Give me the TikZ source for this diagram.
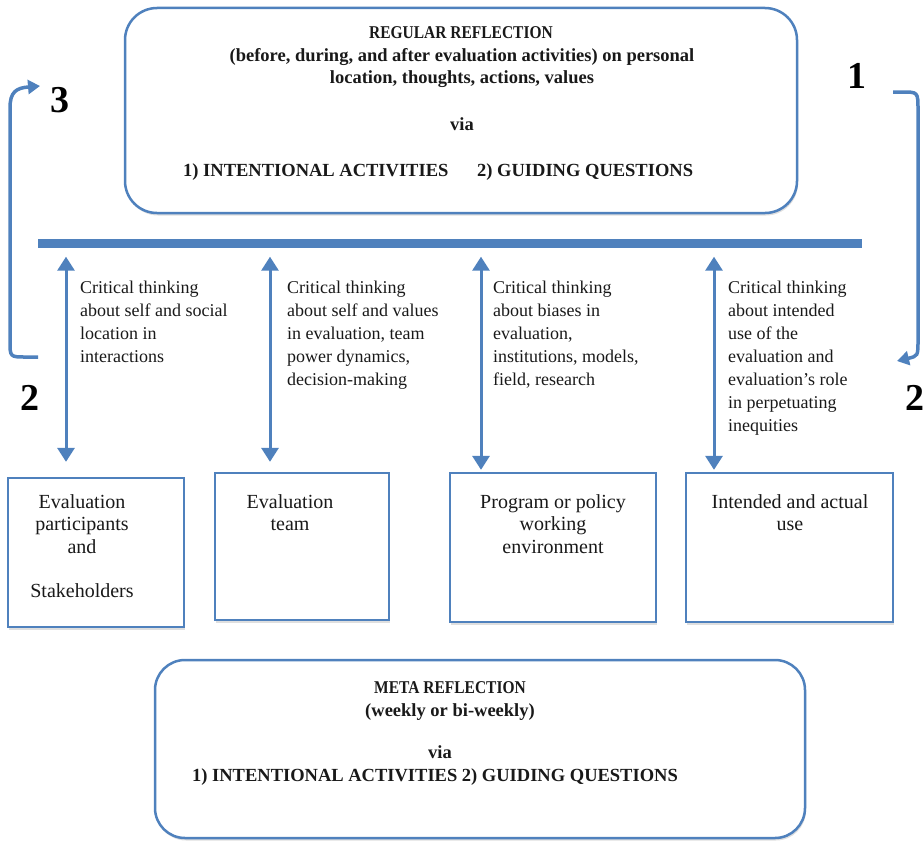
\documentclass[tikz,border=0pt]{standalone}
\usepackage{fontspec}
\setmainfont{Liberation Serif}
\newfontfamily\condserif[FakeStretch=0.86]{Liberation Serif}
\usetikzlibrary{arrows.meta,shadows}
\definecolor{ablue}{RGB}{79,129,189}
\definecolor{txt}{RGB}{25,25,25}
\begin{document}
\begin{tikzpicture}[x=1pt,y=-1pt,
  rbox/.style={draw=ablue, line width=2.5pt, rounded corners=32pt, fill=white,
    drop shadow={shadow xshift=1pt, shadow yshift=-2.5pt, opacity=0.25}},
  sbox/.style={draw=ablue, line width=2.3pt, fill=white,
    drop shadow={shadow xshift=1pt, shadow yshift=-2.5pt, opacity=0.25}},
  hd/.style={font=\fontsize{18.5}{22}\selectfont\bfseries, text=txt, inner sep=0, anchor=base},
  ttl/.style={hd, font=\condserif\fontsize{18}{22}\selectfont\bfseries},
  ct/.style={font=\fontsize{18}{23}\selectfont, text=txt, align=left, inner sep=0, anchor=north west},
  bt/.style={font=\fontsize{20}{22.5}\selectfont, text=txt, align=center, inner sep=0, anchor=north},
  num/.style={font=\fontsize{38}{38}\selectfont\bfseries, text=black, inner sep=0},
  dbl/.style={ablue, line width=3pt, {Triangle[width=17pt,length=14pt]}-{Triangle[width=17pt,length=14pt]}},
  loopar/.style={ablue, line width=3.5pt, -{Triangle[width=14pt,length=12pt]}}
]
\useasboundingbox (0,0) rectangle (923,843);

% top rounded box
\node[rbox, minimum width=672pt, minimum height=205pt] (reg) at (461,110.5) {};
\node[ttl] (r1) at (461,38) {REGULAR REFLECTION};
\node[hd] (r2) at (462,61) {(before, during, and after evaluation activities) on personal};
\node[hd] (r3) at (462,83) {location, thoughts, actions, values};
\node[hd] (r4) at (462,130) {via};
\node[hd, anchor=base west] (r5) at (183,176) {1) INTENTIONAL ACTIVITIES};
\node[hd, anchor=base west] (r6) at (477,176) {2) GUIDING QUESTIONS};

% bar
\node[fill=ablue, minimum width=824pt, minimum height=9pt, inner sep=0] (bar) at (450,243) {};

% numbers
\node[num] (n3) at (60,100) {3};
\node[num] (n1) at (857,76) {1};
\node[num] (n2l) at (30,398) {2};
\node[num] (n2r) at (915,398) {2};

% loop arrows
\coordinate (l3) at (40,86);
\coordinate (l2) at (38,357);
\draw[loopar] (l2) -- (26,357) .. controls (10,357) .. (10,341) -- (10,108)
  .. controls (10,92) and (16,88) .. (l3);
\coordinate (r1s) at (893,92);
\coordinate (r2e) at (897,361);
\draw[loopar] (r1s) -- (902,92) .. controls (918,92) .. (918,110) -- (918,340)
  .. controls (918,356) .. (r2e);

% lower boxes
\node[sbox, minimum width=176pt, minimum height=149pt] (b1) at (96,552.5) {};
\node[sbox, minimum width=174pt, minimum height=147pt] (b2) at (302,546.5) {};
\node[sbox, minimum width=206pt, minimum height=149pt] (b3) at (553,547.5) {};
\node[sbox, minimum width=207pt, minimum height=149pt] (b4) at (789.5,547.5) {};

\node[bt] (t1) at (82,494) {Evaluation\\participants\\and\\[22pt]Stakeholders};
\node[bt] (t2) at (290,494) {Evaluation\\team};
\node[bt] (t3) at (553,494) {Program or policy\\working\\environment};
\node[bt] (t4) at (790,494) {Intended and actual\\use};

% double arrows
\coordinate (x1) at (66,0);
\coordinate (x2) at (270,0);
\coordinate (x3) at (481,0);
\coordinate (x4) at (714,0);
\draw[dbl, shorten <=9pt, shorten >=15pt] (bar.south -| x1) -- (b1.north -| x1);
\draw[dbl, shorten <=9pt, shorten >=10pt] (bar.south -| x2) -- (b2.north -| x2);
\draw[dbl, shorten <=9pt, shorten >=2pt] (bar.south -| x3) -- (b3.north -| x3);
\draw[dbl, shorten <=9pt, shorten >=2pt] (bar.south -| x4) -- (b4.north -| x4);

% column texts
\node[ct] (c1) at (80,281) {Critical thinking\\about self and social\\location in\\interactions};
\node[ct] (c2) at (287,281) {Critical thinking\\about self and values\\in evaluation, team\\power dynamics,\\decision-making};
\node[ct] (c3) at (493,281) {Critical thinking\\about biases in\\evaluation,\\institutions, models,\\field, research};
\node[ct] (c4) at (728,281) {Critical thinking\\about intended\\use of the\\evaluation and\\evaluation’s role\\in perpetuating\\inequities};

% bottom rounded box
\node[rbox, minimum width=650pt, minimum height=178pt, rounded corners=30pt] (meta) at (480,749) {};
\node[ttl] (m1) at (450,693) {META REFLECTION};
\node[hd] (m2) at (450,716) {(weekly or bi-weekly)};
\node[hd] (m3) at (440,758) {via};
\node[hd] (m4) at (435,781) {1) INTENTIONAL ACTIVITIES 2) GUIDING QUESTIONS};
\end{tikzpicture}
\end{document}
